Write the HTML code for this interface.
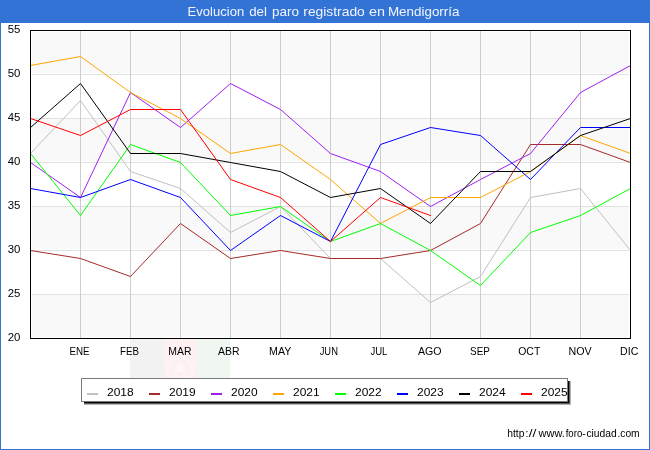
<!DOCTYPE html>
<html lang="es"><head><meta charset="utf-8"><title>Evolucion del paro registrado en Mendigorría</title>
<style>html,body{margin:0;padding:0;background:#fff;}body{width:650px;height:450px;overflow:hidden;font-family:"Liberation Sans",sans-serif;}svg{display:block;will-change:transform;}text{font-family:"Liberation Sans",sans-serif;}</style>
</head><body>
<svg width="650" height="450" viewBox="0 0 650 450">
<rect x="0" y="0" width="650" height="450" fill="#ffffff"/>
<rect x="0.5" y="0.5" width="649" height="449" fill="none" stroke="#3473d6" stroke-width="1" shape-rendering="crispEdges"/>
<rect x="0" y="0" width="650" height="23" fill="#3473d6" shape-rendering="crispEdges"/>
<rect x="0" y="0" width="650" height="22" fill="#3473d6" shape-rendering="crispEdges"/>
<text y="16" font-size="12.25" fill="#ffffff" fill-opacity="0.93" ><tspan x="187.6" textLength="56.6" lengthAdjust="spacingAndGlyphs">Evolucion</tspan> <tspan x="249.2" textLength="17.8" lengthAdjust="spacingAndGlyphs">del</tspan> <tspan x="271.9" textLength="27.0" lengthAdjust="spacingAndGlyphs">paro</tspan> <tspan x="303.3" textLength="61.5" lengthAdjust="spacingAndGlyphs">registrado</tspan> <tspan x="369.1" textLength="16.0" lengthAdjust="spacingAndGlyphs">en</tspan> <tspan x="387.9" textLength="71.6" lengthAdjust="spacingAndGlyphs">Mendigorría</tspan></text>
<g shape-rendering="crispEdges"><rect x="130" y="339" width="34" height="39" fill="#f2f2f2"/><rect x="164" y="339" width="33" height="39" fill="#fdf0f0"/><rect x="197" y="339" width="33" height="39" fill="#f0f7f1"/></g>
<g fill="none" stroke="#ffffff"><circle cx="180" cy="370" r="12.6" stroke-opacity="0.34" stroke-width="4.4" stroke-dasharray="2.2 0.9"/><circle cx="180" cy="370" r="6.5" stroke-opacity="0.3" stroke-width="1.4"/><path d="M176.5 372 L176.5 366.5 Q180 361.5 183.5 366.5 L183.5 372 Z" fill="#ffffff" fill-opacity="0.45" stroke="none"/><path d="M175 359.5 Q180 356.5 185 359.5" stroke-opacity="0.45" stroke-width="1.6"/></g>
<g shape-rendering="crispEdges">
<rect x="30" y="30" width="601" height="309" fill="#ffffff"/>
<rect x="32" y="32" width="597" height="41" fill="#f9f9f9"/>
<rect x="32" y="119" width="597" height="42" fill="#f9f9f9"/>
<rect x="32" y="207" width="597" height="42" fill="#f9f9f9"/>
<rect x="32" y="295" width="597" height="42" fill="#f9f9f9"/>
<rect x="32" y="74" width="597" height="1" fill="#e1e1e1"/>
<rect x="32" y="118" width="597" height="1" fill="#e1e1e1"/>
<rect x="32" y="162" width="597" height="1" fill="#e1e1e1"/>
<rect x="32" y="206" width="597" height="1" fill="#e1e1e1"/>
<rect x="32" y="250" width="597" height="1" fill="#e1e1e1"/>
<rect x="32" y="294" width="597" height="1" fill="#e1e1e1"/>
<rect x="80" y="31" width="1" height="307" fill="#cdcdcd"/>
<rect x="130" y="31" width="1" height="307" fill="#cdcdcd"/>
<rect x="180" y="31" width="1" height="307" fill="#cdcdcd"/>
<rect x="230" y="31" width="1" height="307" fill="#cdcdcd"/>
<rect x="280" y="31" width="1" height="307" fill="#cdcdcd"/>
<rect x="330" y="31" width="1" height="307" fill="#cdcdcd"/>
<rect x="380" y="31" width="1" height="307" fill="#cdcdcd"/>
<rect x="430" y="31" width="1" height="307" fill="#cdcdcd"/>
<rect x="480" y="31" width="1" height="307" fill="#cdcdcd"/>
<rect x="530" y="31" width="1" height="307" fill="#cdcdcd"/>
<rect x="580" y="31" width="1" height="307" fill="#cdcdcd"/>
</g>
<g fill="none" stroke-width="1" stroke-linejoin="round" stroke-linecap="round">
<polyline stroke="#c0c0c0" points="30.5,153.5 80.5,100.5 130.5,171.5 180.5,188.5 230.5,232.5 280.5,206.5 330.5,258.5 380.5,258.5 430.5,302.5 480.5,276.5 530.5,197.5 580.5,188.5 630.5,250.5"/>
<polyline stroke="#a52a2a" points="30.5,250.5 80.5,258.5 130.5,276.5 180.5,223.5 230.5,258.5 280.5,250.5 330.5,258.5 380.5,258.5 430.5,250.5 480.5,223.5 530.5,144.5 580.5,144.5 630.5,162.5"/>
<polyline stroke="#a020f0" points="30.5,162.5 80.5,197.5 130.5,92.5 180.5,127.5 230.5,83.5 280.5,109.5 330.5,153.5 380.5,171.5 430.5,206.5 480.5,179.5 530.5,153.5 580.5,92.5 630.5,65.5"/>
<polyline stroke="#ffa500" points="30.5,65.5 80.5,56.5 130.5,92.5 180.5,118.5 230.5,153.5 280.5,144.5 330.5,179.5 380.5,223.5 430.5,197.5 480.5,197.5 530.5,171.5 580.5,135.5 630.5,153.5"/>
<polyline stroke="#00ff00" points="30.5,153.5 80.5,215.5 130.5,144.5 180.5,162.5 230.5,215.5 280.5,206.5 330.5,241.5 380.5,223.5 430.5,250.5 480.5,285.5 530.5,232.5 580.5,215.5 630.5,188.5"/>
<polyline stroke="#0000ff" points="30.5,188.5 80.5,197.5 130.5,179.5 180.5,197.5 230.5,250.5 280.5,215.5 330.5,241.5 380.5,144.5 430.5,127.5 480.5,135.5 530.5,179.5 580.5,127.5 630.5,127.5"/>
<polyline stroke="#000000" points="30.5,127.5 80.5,83.5 130.5,153.5 180.5,153.5 230.5,162.5 280.5,171.5 330.5,197.5 380.5,188.5 430.5,223.5 480.5,171.5 530.5,171.5 580.5,135.5 630.5,118.5"/>
<polyline stroke="#ff0000" points="30.5,118.5 80.5,135.5 130.5,109.5 180.5,109.5 230.5,179.5 280.5,197.5 330.5,241.5 380.5,197.5 430.5,215.5"/>
</g>
<rect x="30.5" y="30.5" width="600" height="308" fill="none" stroke="#000000" stroke-width="1" shape-rendering="crispEdges"/>
<text x="7.7" y="33" font-size="10.2" fill="#000000" textLength="12.7" lengthAdjust="spacingAndGlyphs">55</text>
<text x="7.7" y="77" font-size="10.2" fill="#000000" textLength="12.7" lengthAdjust="spacingAndGlyphs">50</text>
<text x="7.7" y="121" font-size="10.2" fill="#000000" textLength="12.7" lengthAdjust="spacingAndGlyphs">45</text>
<text x="7.7" y="165" font-size="10.2" fill="#000000" textLength="12.7" lengthAdjust="spacingAndGlyphs">40</text>
<text x="7.7" y="209" font-size="10.2" fill="#000000" textLength="12.7" lengthAdjust="spacingAndGlyphs">35</text>
<text x="7.7" y="253" font-size="10.2" fill="#000000" textLength="12.7" lengthAdjust="spacingAndGlyphs">30</text>
<text x="7.7" y="297" font-size="10.2" fill="#000000" textLength="12.7" lengthAdjust="spacingAndGlyphs">25</text>
<text x="7.7" y="341" font-size="10.2" fill="#000000" textLength="12.7" lengthAdjust="spacingAndGlyphs">20</text>
<text x="69.5" y="355" font-size="10.7" fill="#000000" textLength="20.1" lengthAdjust="spacingAndGlyphs">ENE</text>
<text x="120.0" y="355" font-size="10.7" fill="#000000" textLength="18.9" lengthAdjust="spacingAndGlyphs">FEB</text>
<text x="168.3" y="355" font-size="10.7" fill="#000000" textLength="23.2" lengthAdjust="spacingAndGlyphs">MAR</text>
<text x="218.0" y="355" font-size="10.7" fill="#000000" textLength="21.5" lengthAdjust="spacingAndGlyphs">ABR</text>
<text x="269.1" y="355" font-size="10.7" fill="#000000" textLength="22.3" lengthAdjust="spacingAndGlyphs">MAY</text>
<text x="319.7" y="355" font-size="10.7" fill="#000000" textLength="18.2" lengthAdjust="spacingAndGlyphs">JUN</text>
<text x="370.4" y="355" font-size="10.7" fill="#000000" textLength="17.0" lengthAdjust="spacingAndGlyphs">JUL</text>
<text x="418.0" y="355" font-size="10.7" fill="#000000" textLength="23.6" lengthAdjust="spacingAndGlyphs">AGO</text>
<text x="470.1" y="355" font-size="10.7" fill="#000000" textLength="19.8" lengthAdjust="spacingAndGlyphs">SEP</text>
<text x="518.2" y="355" font-size="10.7" fill="#000000" textLength="22.1" lengthAdjust="spacingAndGlyphs">OCT</text>
<text x="568.5" y="355" font-size="10.7" fill="#000000" textLength="23.2" lengthAdjust="spacingAndGlyphs">NOV</text>
<text x="620.1" y="355" font-size="10.7" fill="#000000" textLength="18.2" lengthAdjust="spacingAndGlyphs">DIC</text>
<g shape-rendering="crispEdges">
<rect x="84" y="381" width="487" height="24" fill="#b4b4b4"/>
<rect x="84" y="381" width="486" height="23" fill="#585858"/>
<rect x="84" y="381" width="485" height="22" fill="#000000"/>
<rect x="81.5" y="378.5" width="486" height="23" fill="#ffffff" stroke="#7a7a7a" stroke-width="1"/>
<rect x="87" y="393" width="11" height="2" fill="#c0c0c0"/>
<rect x="149" y="393" width="11" height="2" fill="#a52a2a"/>
<rect x="211" y="393" width="11" height="2" fill="#a020f0"/>
<rect x="273" y="393" width="11" height="2" fill="#ffa500"/>
<rect x="335" y="393" width="11" height="2" fill="#00ff00"/>
<rect x="397" y="393" width="11" height="2" fill="#0000ff"/>
<rect x="459" y="393" width="11" height="2" fill="#000000"/>
<rect x="521" y="393" width="11" height="2" fill="#ff0000"/>
</g>
<text x="107.0" y="396" font-size="10.2" fill="#000000" textLength="26.6" lengthAdjust="spacingAndGlyphs">2018</text>
<text x="169.0" y="396" font-size="10.2" fill="#000000" textLength="26.6" lengthAdjust="spacingAndGlyphs">2019</text>
<text x="231.0" y="396" font-size="10.2" fill="#000000" textLength="26.6" lengthAdjust="spacingAndGlyphs">2020</text>
<text x="293.0" y="396" font-size="10.2" fill="#000000" textLength="26.6" lengthAdjust="spacingAndGlyphs">2021</text>
<text x="355.0" y="396" font-size="10.2" fill="#000000" textLength="26.6" lengthAdjust="spacingAndGlyphs">2022</text>
<text x="417.0" y="396" font-size="10.2" fill="#000000" textLength="26.6" lengthAdjust="spacingAndGlyphs">2023</text>
<text x="479.0" y="396" font-size="10.2" fill="#000000" textLength="26.6" lengthAdjust="spacingAndGlyphs">2024</text>
<text x="541.0" y="396" font-size="10.2" fill="#000000" textLength="26.6" lengthAdjust="spacingAndGlyphs">2025</text>
<text y="437.3" font-size="10.4" fill="#000000"><tspan x="507.2" textLength="17.2" lengthAdjust="spacingAndGlyphs">http</tspan><tspan x="525.4">:</tspan><tspan x="528.8" textLength="7.6" lengthAdjust="spacingAndGlyphs">//</tspan><tspan x="538.5" textLength="26.3" lengthAdjust="spacingAndGlyphs">www.</tspan><tspan x="565.7" textLength="16.6" lengthAdjust="spacingAndGlyphs">foro</tspan><tspan x="582.3">-</tspan><tspan x="586.4" textLength="30.3" lengthAdjust="spacingAndGlyphs">ciudad</tspan><tspan x="617.4" textLength="22.3" lengthAdjust="spacingAndGlyphs">.com</tspan></text>
</svg>
</body></html>
